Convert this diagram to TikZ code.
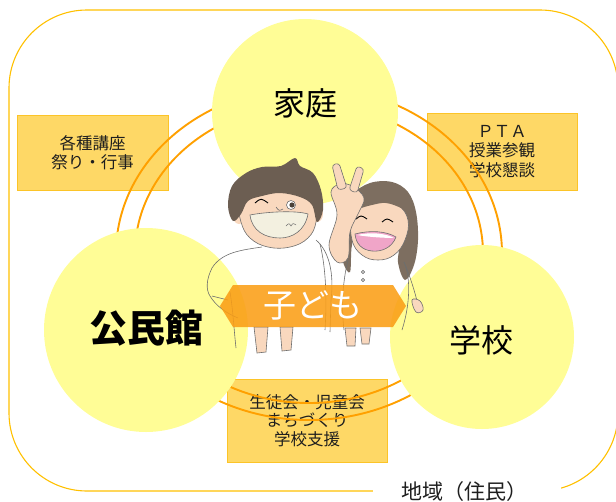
\documentclass[tikz,border=0pt]{standalone}
\usepackage{fontspec}
\setmainfont{Noto Sans CJK JP}
\definecolor{frameYellow}{RGB}{255,192,0}
\definecolor{ringOrange}{RGB}{255,160,0}
\definecolor{discYellow}{RGB}{255,253,150}
\definecolor{boxFill}{RGB}{254,216,102}
\definecolor{boxEdge}{RGB}{252,196,40}
\definecolor{bannerOrange}{RGB}{250,158,22}
\definecolor{skin}{RGB}{249,216,190}
\definecolor{hairBoy}{RGB}{108,94,82}
\definecolor{hairGirl}{RGB}{125,110,96}
\definecolor{inkGray}{RGB}{110,110,110}
\definecolor{teeth}{RGB}{243,240,224}
\definecolor{tongue}{RGB}{240,165,200}
\definecolor{textDark}{RGB}{30,30,30}
\begin{document}
\begin{tikzpicture}[x=1pt,y=-1pt,
  frame/.style={draw=frameYellow,line width=1.1pt,rounded corners=78pt},
  ring/.style={draw=ringOrange,line width=1.9pt},
  disc/.style={circle,fill=discYellow,draw=none,inner sep=0pt},
  infobox/.style={fill=boxFill,draw=boxEdge,line width=0.8pt,inner sep=0pt,
    align=center,font=\fontsize{16.5}{19.5}\selectfont,text=textDark},
  bigword/.style={font=\fontsize{32}{36}\selectfont,text=black},
  lineart/.style={draw=inkGray,line width=0.6pt},
  skinpart/.style={fill=skin,draw=inkGray,line width=0.6pt},
]
\useasboundingbox (0,0) rectangle (616,501);

% outer frame of the community
\draw[frame] (9,10) rectangle (618,491);
\fill[white] (372.5,484) rectangle (561,502);
\node[font=\fontsize{21}{24}\selectfont,text=textDark] (area) at (464,492) {地域（住民）};

% activity boxes
\node[infobox,minimum width=151pt,minimum height=75pt] (events) at (92.5,152.5) {各種講座\\祭り・行事};
\node[infobox,minimum width=150pt,minimum height=77pt] (pta) at (502,151.5) {ＰＴＡ\\授業参観\\学校懇談};
\node[infobox,minimum width=160pt,minimum height=83pt,font=\fontsize{16.5}{18.5}\selectfont] (council) at (307,420.5) {生徒会・児童会\\まちづくり\\学校支援};

% double ring linking the three places
\draw[ring] (309,253.5) ellipse [x radius=193pt, y radius=166.5pt];
\draw[ring] (309,253.5) ellipse [x radius=174pt, y radius=149.5pt];

% the three places
\node[disc,minimum size=186pt] (homeDisc) at (305,112) {};
\node[disc,minimum size=204pt] (hallDisc) at (146,330) {};
\node[disc,minimum size=184pt] (schoolDisc) at (482,337) {};

% ---- children ----
% boy: ears, face, hair
\fill[skin] (239,216) ellipse [x radius=6pt, y radius=8pt];
\fill[skin] (317,214) ellipse [x radius=6pt, y radius=8pt];
\path[skinpart] plot[smooth cycle,tension=0.7] coordinates {(240,205) (250,195) (272,191) (300,193) (314,205) (316,222) (308,238) (290,247) (268,247) (250,238) (241,222)};
\fill[hairBoy] plot[smooth cycle,tension=0.6] coordinates {(228,206) (232,186) (246,173) (262,167) (281,166) (295,158) (300,166) (313,173) (321,190) (323,210) (317,222) (312,205) (300,197) (280,193) (262,196) (248,201) (241,214) (233,221)};
% boy: eyes, nose, mouth
\draw[black,line width=0.9pt] (255,203) .. controls (261,198) .. (268,203);
\draw[inkGray,line width=0.6pt,fill=white] (291,205) circle [radius=4.5pt];
\fill[hairBoy!70!black] (292,205) circle [radius=2.6pt];
\draw[inkGray,line width=0.6pt] (276,207) .. controls (279,211) .. (283,209);
\path[draw=inkGray,line width=0.6pt,fill=teeth] (250,215) .. controls (265,212) and (295,210) .. (308,214) .. controls (305,231) and (292,238) .. (280,238) .. controls (265,238) and (252,231) .. (250,215) -- cycle;
\draw[inkGray,line width=0.5pt] (286,226) .. controls (289,223) .. (291,226) .. controls (293,223) .. (296,225);
% boy: shirt outline, arm and legs
\draw[lineart] (262,247) .. controls (242,250) and (222,252) .. (212,268) .. controls (206,280) and (206,290) .. (210,296) .. controls (216,306) and (226,313) .. (238,318);
\draw[lineart] (212,296) -- (228,300);
\draw[lineart] (230,292) .. controls (233,310) and (234,330) .. (236,348);
\draw[lineart] (316,240) .. controls (330,252) and (334,275) .. (331,300) -- (330,332);
\draw[lineart] (320,244) .. controls (326,268) and (327,300) .. (325,330);
\path[skinpart] (254,327) -- (268,327) -- (266,352) -- (257,353) -- cycle;
\path[skinpart] (280,327) -- (293,327) -- (291,350) -- (282,351) -- cycle;

% girl: hair behind, face, fringe
\fill[hairGirl] plot[smooth cycle,tension=0.6] coordinates {(345,215) (352,195) (370,183) (392,182) (408,192) (416,212) (418,240) (414,265) (405,280) (398,262) (400,240) (392,228) (360,228) (352,245) (350,272) (343,262) (341,240)};
\path[skinpart] plot[smooth cycle,tension=0.7] coordinates {(352,216) (362,203) (380,199) (398,205) (408,220) (405,240) (394,255) (378,260) (362,255) (352,240)};
\fill[hairGirl] plot[smooth cycle,tension=0.6] coordinates {(348,216) (355,197) (372,186) (395,186) (409,198) (413,216) (401,208) (386,203) (372,205) (359,209)};
% girl: closed eyes and mouth
\draw[black,line width=0.9pt] (356,219) .. controls (361,215) .. (367,219);
\draw[black,line width=0.9pt] (382,222) .. controls (387,218) .. (393,222);
\path[draw=inkGray,line width=0.6pt,fill=tongue] (355,234) .. controls (370,230) and (386,231) .. (396,237) .. controls (392,248) and (381,252) .. (372,251) .. controls (362,250) and (356,244) .. (355,234) -- cycle;
\fill[white] (357,235) .. controls (370,232) and (385,233) .. (394,238) .. controls (385,238) and (368,237) .. (357,235) -- cycle;
% girl: raised arm with peace sign
\path[skinpart] plot[smooth cycle,tension=0.6] coordinates {(331,192) (337,215) (329,245) (337,262) (348,258) (350,232) (358,214) (364,198) (352,186) (340,184)};
\path[skinpart,rounded corners=3pt] (338,190) -- (332,165) -- (339,163) -- (347,188) -- cycle;
\path[skinpart,rounded corners=3pt] (349,190) -- (357,166) -- (364,169) -- (357,193) -- cycle;
% girl: dress outline, arm and legs
\draw[lineart] (348,260) .. controls (343,280) and (341,305) .. (344,330);
\draw[lineart] (404,262) .. controls (411,278) and (410,305) .. (402,330);
\draw[lineart] (404,262) .. controls (410,276) and (415,292) .. (418,305);
\path[skinpart] plot[smooth cycle,tension=0.7] coordinates {(412,300) (420,301) (423,310) (416,312)};
\draw[lineart] (363,272) circle [radius=1.6pt];
\draw[lineart] (363,280) circle [radius=1.6pt];
\path[skinpart] (345,328) -- (356,328) -- (355,346) -- (347,346) -- cycle;
\path[skinpart] (360,328) -- (371,328) -- (369,344) -- (362,344) -- cycle;

% ---- labels ----
\node[bigword] (home) at (305,103) {家庭};
\node[bigword] (school) at (481,340) {学校};
\node[font=\fontsize{38}{42}\selectfont\bfseries,text=black] (hall) at (146,328) {公民館};

% central banner
\fill[bannerOrange,opacity=0.88] (233,285) -- (393,285) -- (406,306) -- (393,327) -- (233,327) -- (220,306) -- cycle;
\node[font=\fontsize{33}{36}\selectfont,text=white] (child) at (313,305) {子ども};
\end{tikzpicture}
\end{document}
